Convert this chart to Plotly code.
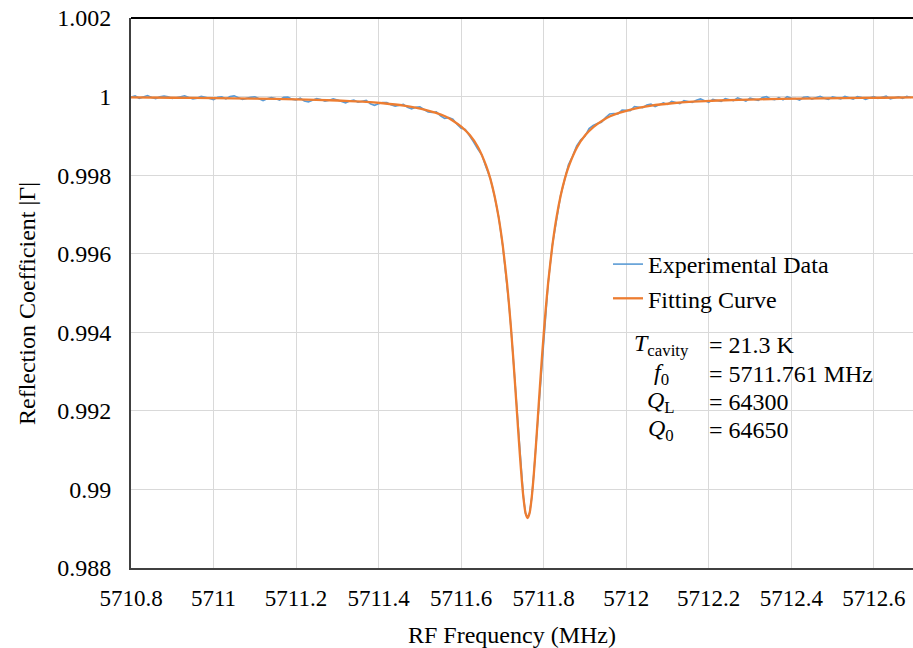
import plotly.graph_objects as go

# ---------------- data ----------------
fit_x = [5710.800, 5710.900, 5711.000, 5711.100, 5711.200, 5711.300, 5711.361, 5711.411,
         5711.461, 5711.511, 5711.561, 5711.581, 5711.601, 5711.621, 5711.641, 5711.661,
         5711.671, 5711.681, 5711.691, 5711.701, 5711.711, 5711.716, 5711.721, 5711.726,
         5711.731, 5711.736, 5711.741, 5711.746, 5711.751, 5711.756, 5711.761,
         5711.766, 5711.771, 5711.776, 5711.781, 5711.786, 5711.791, 5711.796, 5711.801,
         5711.806, 5711.811, 5711.821, 5711.831, 5711.841, 5711.851, 5711.861, 5711.881,
         5711.901, 5711.921, 5711.941, 5711.961, 5712.011, 5712.061, 5712.111, 5712.161,
         5712.222, 5712.322, 5712.422, 5712.522, 5712.622, 5712.695]
fit_y = [0.99998, 0.99997, 0.99996, 0.99995, 0.99993, 0.99990, 0.99987, 0.99983,
         0.99977, 0.99967, 0.99950, 0.99938, 0.99923, 0.99902, 0.99871, 0.99823,
         0.99790, 0.99747, 0.99692, 0.99620, 0.99527, 0.99471, 0.99408, 0.99338,
         0.99263, 0.99185, 0.99108, 0.99037, 0.98979, 0.98940, 0.98927,
         0.98940, 0.98979, 0.99037, 0.99108, 0.99185, 0.99263, 0.99338, 0.99408,
         0.99471, 0.99527, 0.99620, 0.99692, 0.99747, 0.99790, 0.99823, 0.99871,
         0.99902, 0.99923, 0.99938, 0.99950, 0.99967, 0.99977, 0.99983, 0.99987,
         0.99990, 0.99993, 0.99995, 0.99996, 0.99997, 0.99998]

exp_x = [5710.80, 5710.81, 5710.82, 5710.83, 5710.84, 5710.85, 5710.86, 5710.87, 5710.88, 5710.89,
         5710.90, 5710.91, 5710.92, 5710.93, 5710.94, 5710.95, 5710.96, 5710.97, 5710.98, 5710.99,
         5711.00, 5711.01, 5711.02, 5711.03, 5711.04, 5711.05, 5711.06, 5711.07, 5711.08, 5711.09,
         5711.10, 5711.11, 5711.12, 5711.13, 5711.14, 5711.15, 5711.16, 5711.17, 5711.18, 5711.19,
         5711.20, 5711.21, 5711.22, 5711.23, 5711.24, 5711.25, 5711.26, 5711.27, 5711.28, 5711.29,
         5711.30, 5711.31, 5711.32, 5711.33, 5711.34, 5711.35, 5711.36, 5711.37, 5711.38, 5711.39,
         5711.40, 5711.41, 5711.42, 5711.43, 5711.44, 5711.45, 5711.46, 5711.47, 5711.48, 5711.49,
         5711.50, 5711.51, 5711.52, 5711.53, 5711.54, 5711.55, 5711.56, 5711.57, 5711.58, 5711.59,
         5711.60, 5711.61, 5711.62, 5711.63, 5711.64, 5711.65, 5711.66,
         5711.671, 5711.681, 5711.691, 5711.701, 5711.711, 5711.716, 5711.721, 5711.726,
         5711.731, 5711.736, 5711.741, 5711.746, 5711.751, 5711.756, 5711.761,
         5711.766, 5711.771, 5711.776, 5711.781, 5711.786, 5711.791, 5711.796, 5711.801,
         5711.806, 5711.811, 5711.821, 5711.831, 5711.841, 5711.851,
         5711.86, 5711.87, 5711.88, 5711.89, 5711.90, 5711.91, 5711.92, 5711.93, 5711.94, 5711.95,
         5711.96, 5711.97, 5711.98, 5711.99, 5712.00, 5712.01, 5712.02, 5712.03, 5712.04, 5712.05,
         5712.06, 5712.07, 5712.08, 5712.09, 5712.10, 5712.11, 5712.12, 5712.13, 5712.14, 5712.15,
         5712.16, 5712.17, 5712.18, 5712.19, 5712.20, 5712.21, 5712.22, 5712.23, 5712.24, 5712.25,
         5712.26, 5712.27, 5712.28, 5712.29, 5712.30, 5712.31, 5712.32, 5712.33, 5712.34, 5712.35,
         5712.36, 5712.37, 5712.38, 5712.39, 5712.40, 5712.41, 5712.42, 5712.43, 5712.44, 5712.45,
         5712.46, 5712.47, 5712.48, 5712.49, 5712.50, 5712.51, 5712.52, 5712.53, 5712.54, 5712.55,
         5712.56, 5712.57, 5712.58, 5712.59, 5712.60, 5712.61, 5712.62, 5712.63, 5712.64, 5712.65,
         5712.66, 5712.67, 5712.68, 5712.69]
exp_y = [0.999987, 1.000017, 0.999956, 0.999996, 1.000025, 0.999975, 0.999944, 0.999993, 1.000013, 0.999992,
         0.999951, 0.999971, 1.000000, 1.000019, 0.999979, 0.999938, 0.999957, 1.000006, 0.999985, 0.999954,
         0.999923, 0.999982, 0.999991, 0.999940, 0.999999, 1.000018, 0.999967, 0.999926, 0.999954, 0.999983,
         0.999992, 0.999940, 0.999899, 0.999947, 0.999975, 0.999953, 0.999912, 0.999980, 0.999987, 0.999935,
         0.999913, 0.999960, 0.999888, 0.999865, 0.999912, 0.999949, 0.999926, 0.999882, 0.999909, 0.999945,
         0.999911, 0.999867, 0.999842, 0.999887, 0.999911, 0.999856, 0.999879, 0.999903, 0.999815, 0.999778,
         0.999819, 0.999850, 0.999850, 0.999789, 0.999757, 0.999784, 0.999800, 0.999725, 0.999687, 0.999728,
         0.999736, 0.999672, 0.999605, 0.999595, 0.999610, 0.999510, 0.999446, 0.999464, 0.999425, 0.999295,
         0.999193, 0.999166, 0.999019, 0.998849, 0.998668, 0.998517, 0.998213,
         0.99791, 0.99746, 0.99693, 0.99619, 0.99528, 0.99470, 0.99409, 0.99337,
         0.99264, 0.99184, 0.99109, 0.99036, 0.98980, 0.98939, 0.98928,
         0.98941, 0.98978, 0.99038, 0.99107, 0.99186, 0.99262, 0.99339, 0.99407,
         0.99472, 0.99526, 0.99621, 0.99691, 0.99748, 0.99789,
         0.998263, 0.998477, 0.998748, 0.998899, 0.998989, 0.999186, 0.999263, 0.999315, 0.999345, 0.999464,
         0.999556, 0.999570, 0.999560, 0.999655, 0.999645, 0.999642, 0.999746, 0.999728, 0.999717, 0.999785,
         0.999810, 0.999744, 0.999797, 0.999839, 0.999800, 0.999880, 0.999849, 0.999818, 0.999895, 0.999863,
         0.999849, 0.999906, 0.999941, 0.999897, 0.999852, 0.999927, 0.999901, 0.999875, 0.999949, 0.999922,
         0.999896, 0.999969, 0.999922, 0.999885, 0.999958, 0.999940, 0.999903, 0.999975, 0.999997, 0.999940,
         0.999922, 0.999973, 0.999915, 0.999997, 0.999959, 0.999950, 0.999912, 0.999983, 0.999994, 0.999936,
         0.999967, 1.000008, 0.999959, 0.999930, 0.999991, 0.999972, 0.999943, 1.000004, 0.999965, 0.999936,
         0.999997, 0.999978, 0.999929, 0.999969, 1.000000, 0.999951, 0.999981, 1.000012, 0.999943, 0.999973,
         0.999994, 0.999955, 1.000005, 0.999976]

x_ticks = [5710.8, 5711.0, 5711.2, 5711.4, 5711.6, 5711.8, 5712.0, 5712.2, 5712.4, 5712.6]
x_tick_labels = ["5710.8", "5711", "5711.2", "5711.4", "5711.6", "5711.8", "5712", "5712.2", "5712.4", "5712.6"]
y_ticks = [0.988, 0.990, 0.992, 0.994, 0.996, 0.998, 1.000, 1.002]
y_tick_labels = ["0.988", "0.99", "0.992", "0.994", "0.996", "0.998", "1", "1.002"]

param_names = ["<i>T</i><sub>cavity</sub>", "<i>f</i><sub>0</sub>", "<i>Q</i><sub>L</sub>", "<i>Q</i><sub>0</sub>"]
param_values = ["= 21.3 K", "= 5711.761 MHz", "= 64300", "= 64650"]

# ---------------- figure ----------------
W, H = 913, 648
ML, MR, MT, MB = 131, 0, 18, 80
PW, PH = W - ML - MR, H - MT - MB
FONT = "Liberation Serif, Times New Roman, serif"


def px_x(p):
    return (p - ML) / PW


def px_y(p):
    return 1 - (p - MT) / PH


fig = go.Figure()
fig.add_trace(go.Scatter(x=exp_x, y=exp_y, mode="lines", name="Experimental Data",
                         line=dict(color="#5B9BD5", width=1.6)))
fig.add_trace(go.Scatter(x=fit_x, y=fit_y, mode="lines", name="Fitting Curve",
                         line=dict(color="#ED7D31", width=2.3, shape="spline", smoothing=0.6)))

fig.update_xaxes(range=[5710.8, 5712.695], tickvals=x_ticks, ticktext=x_tick_labels,
                 showgrid=True, gridcolor="#d9d9d9", gridwidth=1, zeroline=False,
                 showline=True, linecolor="#404040", linewidth=2, ticks="",
                 ticklabelstandoff=8, tickfont=dict(family=FONT, size=23, color="black"))
fig.update_yaxes(range=[0.988, 1.002], tickvals=y_ticks, ticktext=y_tick_labels,
                 showgrid=True, gridcolor="#d9d9d9", gridwidth=1, zeroline=False,
                 showline=True, linecolor="#404040", linewidth=2, ticks="",
                 ticklabelstandoff=13, tickfont=dict(family=FONT, size=24, color="black"))

annotations = [
    dict(text="RF Frequency (MHz)", x=px_x(512), y=px_y(635), xref="paper", yref="paper",
         showarrow=False, font=dict(family=FONT, size=24, color="black"),
         xanchor="center", yanchor="middle"),
    dict(text="Reflection Coefficient |Γ|", x=px_x(27), y=px_y(303), xref="paper", yref="paper",
         showarrow=False, textangle=-90, font=dict(family=FONT, size=24, color="black"),
         xanchor="center", yanchor="middle"),
]
row_y = [345, 374, 402, 430]
for name, val, ry in zip(param_names, param_values, row_y):
    annotations.append(dict(text=name, x=px_x(661), y=px_y(ry), xref="paper", yref="paper",
                            showarrow=False, font=dict(family=FONT, size=24, color="black"),
                            xanchor="center", yanchor="middle"))
    annotations.append(dict(text=val, x=px_x(707), y=px_y(ry), xref="paper", yref="paper",
                            showarrow=False, font=dict(family=FONT, size=24, color="black"),
                            xanchor="left", yanchor="middle"))

fig.update_layout(
    width=W, height=H,
    margin=dict(l=ML, r=MR, t=MT, b=MB),
    paper_bgcolor="white", plot_bgcolor="white",
    showlegend=True,
    legend=dict(x=px_x(608), y=px_y(242), xanchor="left", yanchor="top",
                bgcolor="rgba(0,0,0,0)", font=dict(family=FONT, size=24, color="black"),
                tracegroupgap=0, itemwidth=30),
    annotations=annotations,
    shapes=[dict(type="line", xref="paper", yref="paper", x0=0, x1=1, y0=1, y1=1,
                 line=dict(color="black", width=2))],
)

fig.write_html("out.html", config={"displayModeBar": False},
               post_script="document.body.style.margin='0';document.body.style.overflow='hidden';")
